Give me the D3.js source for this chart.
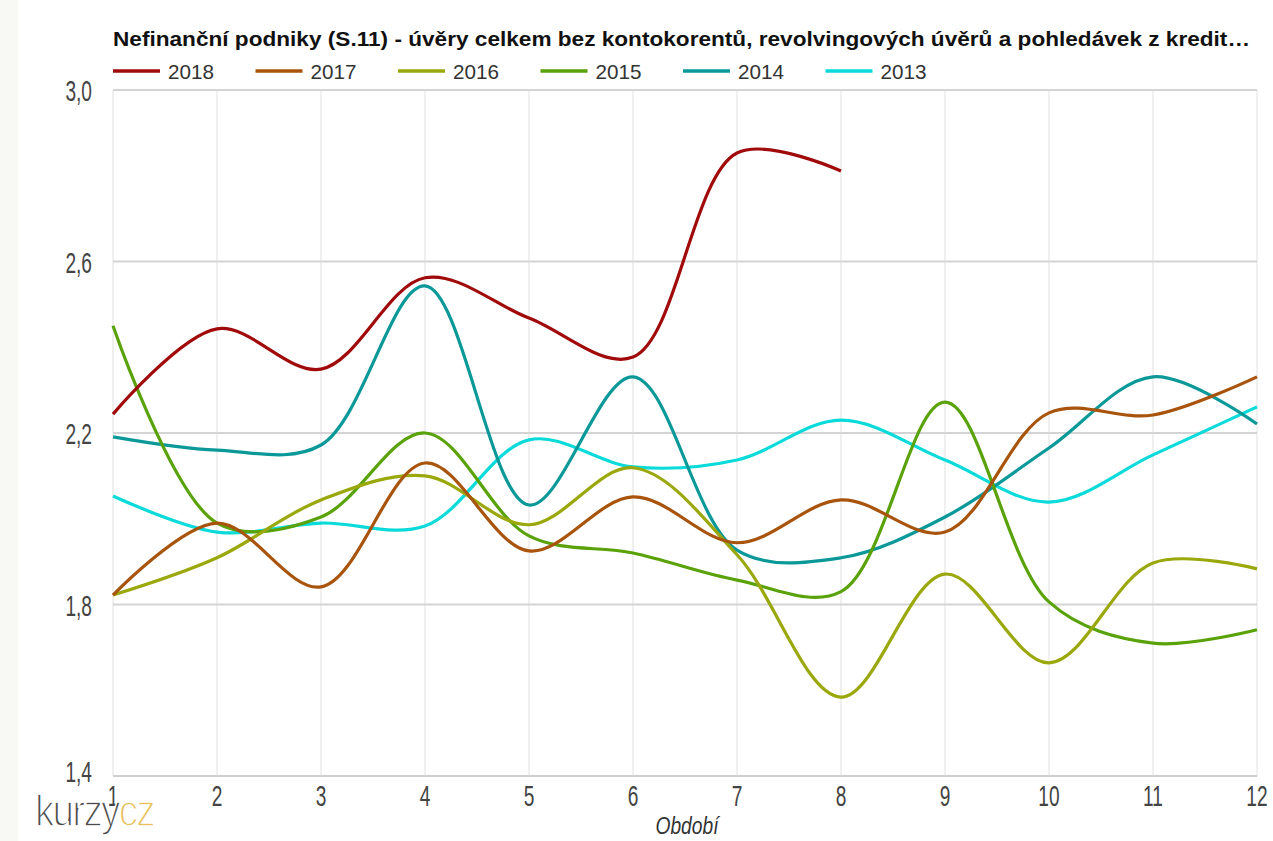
<!DOCTYPE html>
<html>
<head>
<meta charset="utf-8">
<script src="https://cdn.jsdelivr.net/npm/d3@7"></script>
<style>
  body { margin: 0; background: #fff; }
  svg text { font-family: "Liberation Sans", Arial, sans-serif; }
</style>
</head>
<body>
<svg id="chart"></svg>
<script>
const periods = [1, 2, 3, 4, 5, 6, 7, 8, 9, 10, 11, 12];
const yTicks = [1.4, 1.8, 2.2, 2.6, 3.0];

const years = ['2018', '2017', '2016', '2015', '2014', '2013'];
const colors = ['#a00a0a', '#a8540c', '#9aa80c', '#5aa20a', '#0a9898', '#0adada'];

const v2018 = [2.244, 2.443, 2.349, 2.562, 2.468, 2.377, 2.853, 2.811];
const v2017 = [1.822, 1.990, 1.841, 2.130, 1.925, 2.051, 1.944, 2.044, 1.969, 2.247, 2.242, 2.331];
const v2016 = [1.822, 1.909, 2.044, 2.100, 1.986, 2.119, 1.916, 1.584, 1.871, 1.664, 1.897, 1.883];
const v2015 = [2.450, 1.990, 2.004, 2.200, 1.960, 1.920, 1.857, 1.830, 2.272, 1.806, 1.710, 1.741];
const v2014 = [2.191, 2.160, 2.172, 2.543, 2.032, 2.331, 1.927, 1.909, 2.004, 2.165, 2.331, 2.221];
const v2013 = [2.053, 1.969, 1.990, 1.983, 2.184, 2.121, 2.137, 2.230, 2.137, 2.039, 2.149, 2.261];

const seriesValues = [v2018, v2017, v2016, v2015, v2014, v2013];

const W = 1273, H = 841;
const plotL = 113, plotR = 1257, plotT = 90, plotB = 776;
const squeeze = 0.66; // tick labels are tall and narrow in the original

const x = d3.scaleLinear().domain([1, 12]).range([plotL, plotR]);
const y = d3.scaleLinear().domain([1.4, 3.0]).range([plotB, plotT]);

const svg = d3.select('svg#chart')
  .attr('width', W)
  .attr('height', H);

// pale strip on the left edge
svg.append('rect').attr('x', 0).attr('y', 0).attr('width', 18).attr('height', H)
  .attr('fill', '#f8f8f4');

// vertical grid
svg.append('g')
  .selectAll('line')
  .data(periods)
  .join('line')
  .attr('x1', d => x(d)).attr('x2', d => x(d))
  .attr('y1', plotT).attr('y2', plotB)
  .attr('stroke', '#ebebeb').attr('stroke-width', 1.5);

// horizontal grid
svg.append('g')
  .selectAll('line')
  .data(yTicks)
  .join('line')
  .attr('x1', plotL).attr('x2', plotR)
  .attr('y1', d => y(d)).attr('y2', d => y(d))
  .attr('stroke', d => d === 1.4 ? '#cfcfcf' : '#d4d4d4')
  .attr('stroke-width', 2);

// y labels
svg.append('g')
  .selectAll('text')
  .data(yTicks)
  .join('text')
  .attr('transform', d => `translate(92,${y(d) + (d === 1.4 ? 6 : 11)}) scale(${squeeze},1)`)
  .attr('text-anchor', 'end')
  .attr('font-size', 29)
  .attr('fill', '#444')
  .text(d => d3.format('.1f')(d).replace('.', ','));

// x labels
svg.append('g')
  .selectAll('text')
  .data(periods)
  .join('text')
  .attr('transform', d => `translate(${x(d)},806) scale(${squeeze},1)`)
  .attr('text-anchor', 'middle')
  .attr('font-size', 29)
  .attr('fill', '#444')
  .text(d => d);

svg.append('text')
  .attr('transform', 'translate(687,834) scale(0.8,1)')
  .attr('text-anchor', 'middle')
  .attr('font-size', 24)
  .attr('font-style', 'italic')
  .attr('fill', '#333')
  .text('Období');

// lines
const line = d3.line()
  .x((d, i) => x(periods[i]))
  .y(d => y(d))
  .curve(d3.curveCatmullRom.alpha(0.5));

svg.append('g')
  .selectAll('path')
  .data(seriesValues.slice().reverse())
  .join('path')
  .attr('d', d => line(d))
  .attr('fill', 'none')
  .attr('stroke', (d, i) => colors[colors.length - 1 - i])
  .attr('stroke-width', 3.2)
  .attr('stroke-linejoin', 'round');

// title
svg.append('text')
  .attr('x', 113).attr('y', 46)
  .attr('font-size', 21)
  .attr('font-weight', 'bold')
  .attr('fill', '#111')
  .attr('textLength', 1137)
  .attr('lengthAdjust', 'spacingAndGlyphs')
  .text('Nefinanční podniky (S.11) - úvěry celkem bez kontokorentů, revolvingových úvěrů a pohledávek z kredit…');

// legend
const legend = svg.append('g')
  .selectAll('g')
  .data(years)
  .join('g')
  .attr('transform', (d, i) => `translate(${113 + i * 142.5},71)`);

legend.append('line')
  .attr('x1', 0).attr('x2', 47)
  .attr('stroke', (d, i) => colors[i])
  .attr('stroke-width', 3.5);

legend.append('text')
  .attr('x', 55).attr('y', 8)
  .attr('font-size', 21)
  .attr('fill', '#333')
  .attr('textLength', 46)
  .attr('lengthAdjust', 'spacingAndGlyphs')
  .text(d => d);

// logo, thinned with a white outline
const logo = svg.append('text')
  .attr('transform', 'translate(35,826) scale(0.88,1)')
  .attr('font-size', 44)
  .attr('font-family', '"DejaVu Sans", sans-serif')
  .attr('letter-spacing', -2)
  .attr('stroke', '#fff')
  .attr('stroke-width', 1.6);
logo.append('tspan').attr('fill', '#4a4a4a').text('kurzy');
logo.append('tspan').attr('fill', '#e8be5a').text('cz');
</script>
</body>
</html>
